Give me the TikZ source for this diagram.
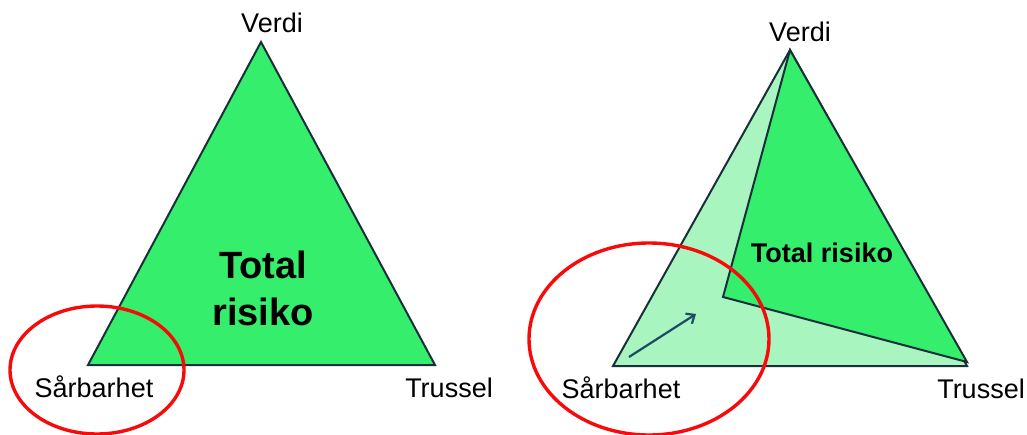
\documentclass[tikz,border=0pt]{standalone}
\usepackage{fontspec}
\setmainfont{Liberation Sans}
\usetikzlibrary{arrows.meta, positioning}
\definecolor{riskgreen}{HTML}{35EE6C}
\definecolor{palegreen}{HTML}{A8F5C0}
\definecolor{edgeblue}{HTML}{1A2F3C}
\definecolor{arrowblue}{HTML}{1D4A66}
\definecolor{ringred}{HTML}{F80A0A}
\tikzset{
    side/.style={draw=edgeblue, line width=2pt, line join=miter},
    ring/.style={draw=ringred, line width=3.4pt},
    corner/.style={font=\fontsize{27}{30}\selectfont, inner sep=0pt, anchor=base},
    total/.style={font=\bfseries\fontsize{#1}{47}\selectfont, inner sep=0pt, align=center},
    push/.style={-{Straight Barb[length=7pt, width=12pt]}, draw=arrowblue, line width=2.2pt}
}

\begin{document}
\begin{tikzpicture}[x=1pt, y=-1pt]
    \useasboundingbox (0,0) rectangle (1027,435);
    % balanced triangle
    \coordinate (v1) at (261,42);
    \coordinate (s1) at (88,365);
    \coordinate (t1) at (435,365);
    \draw[side, fill=riskgreen] (s1) -- (v1) -- (t1) -- cycle;
    \node[total=38] (risk1) at (263,288) {Total\\risiko};
    \node[corner] (verdi1) at (272,33) {Verdi};
    \node[corner] (sarb1) at (94,397) {Sårbarhet};
    \node[corner] (truss1) at (449,397) {Trussel};
    \draw[ring] (97,370) ellipse [x radius=87, y radius=64];

    % vulnerability reduced
    \coordinate (v2) at (790,50);
    \coordinate (s2) at (613,366);
    \coordinate (t2) at (967,366);
    \coordinate (k2) at (723,297);
    \coordinate (u2) at (967,362);
    \draw[side, fill=palegreen] (s2) -- (v2) -- (t2) -- cycle;
    \draw[side, fill=riskgreen] (v2) -- (k2) -- (u2) -- cycle;
    \coordinate (a0) at (629,357);
    \coordinate (a1) at (696,314);
    \draw[push] (a0) -- (a1);
    \node[total=27, anchor=base] (risk2) at (822,263) {Total risiko};
    \node[corner] (verdi2) at (800,42) {Verdi};
    \node[corner] (sarb2) at (621,398) {Sårbarhet};
    \node[corner] (truss2) at (981,398) {Trussel};
    \draw[ring] (649,339) ellipse [x radius=120, y radius=96];
\end{tikzpicture}
\end{document}
